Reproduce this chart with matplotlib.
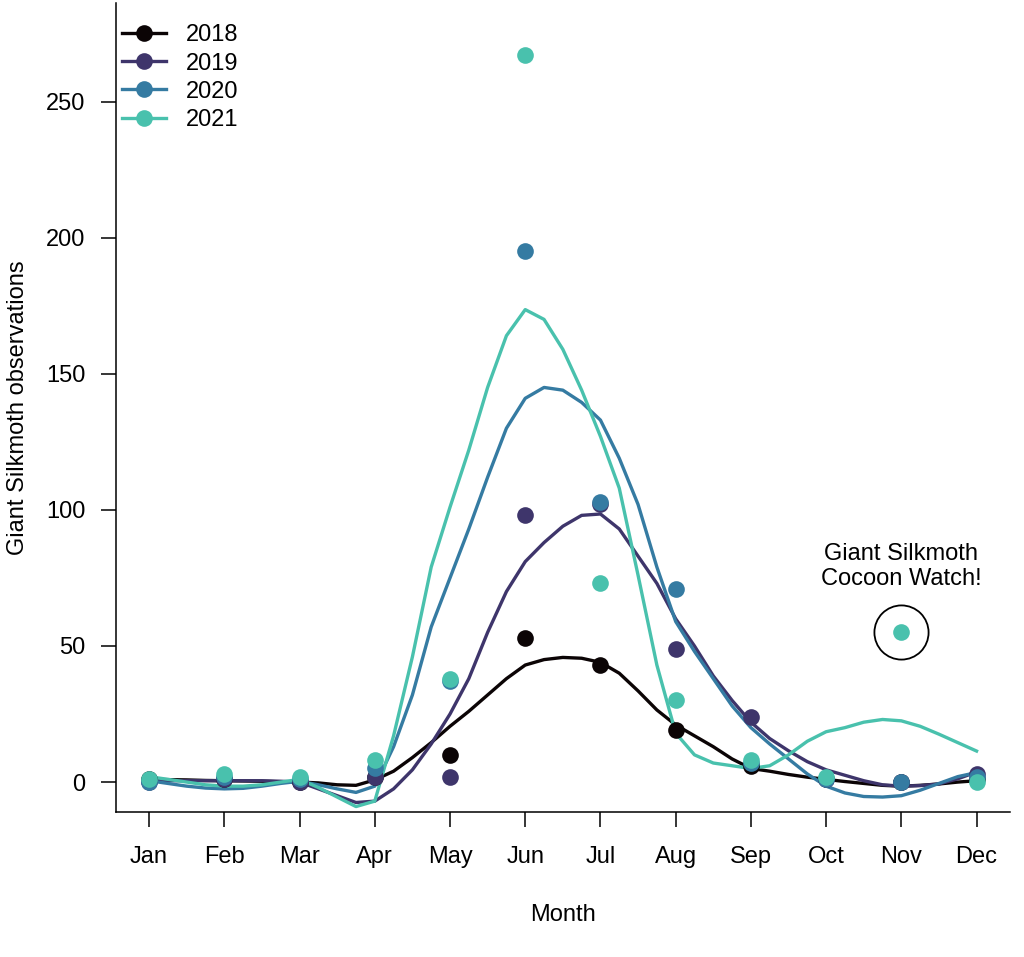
import numpy as np
import matplotlib.pyplot as plt
from matplotlib.lines import Line2D

plt.rcParams['font.family'] = ['Liberation Sans', 'DejaVu Sans']

months = ["Jan", "Feb", "Mar", "Apr", "May", "Jun", "Jul", "Aug", "Sep", "Oct", "Nov", "Dec"]
month_num = np.arange(1, 13)

years = ["2018", "2019", "2020", "2021"]
colors = ["#0B0405", "#3E356B", "#357BA2", "#49C1AD"]

# monthly observation counts
obs_2018 = [1, 1, 0, 2, 10, 53, 43, 19, 6, 1, 0, 1]
obs_2019 = [0, 1, 0, 2, 2, 98, 102, 49, 24, 1, 0, 3]
obs_2020 = [0, 2, 1, 5, 37, 195, 103, 71, 7, 1, 0, 2]
obs_2021 = [1, 3, 2, 8, 38, 267, 73, 30, 8, 2, 55, 0]

# smoothed curves, read at quarter-month steps
fit_x = np.arange(1, 12.01, 0.25)
fit_2018 = [1.0, 0.9, 0.8, 0.6, 0.5, 0.4, 0.3, 0.1, 0.0, -0.3, -1.0, -1.2,
            0.8, 4.0, 9.0, 14.5, 20.5, 26, 32, 38, 43, 45, 45.8, 45.5,
            44, 40, 33.5, 26.5, 21, 17, 13, 8.5, 5, 4, 2.8, 1.8,
            1, 0.2, -0.5, -1.2, -1.5, -1.2, -0.7, 0, 0.5]
fit_2019 = [0.5, 0.5, 0.5, 0.5, 0.5, 0.5, 0.5, 0.3, 0, -2.5, -5, -7.5,
            -7, -2.5, 4.5, 14, 25, 38, 55, 70, 81, 88, 94, 98,
            98.5, 93, 83, 73, 60, 50, 39, 30, 22, 16, 11.5, 7.5,
            4.5, 2.5, 0.5, -1, -1.5, -1.3, -0.7, 1.2, 3.7]
fit_2020 = [0.5, -0.5, -1.5, -2.2, -2.5, -2.3, -1.5, -0.5, 0.3, -1, -2.5, -3.8,
            -1.5, 13, 32, 57, 75, 93, 112, 130, 141, 145, 144, 139.5,
            133, 119, 102, 79, 59, 48, 38, 28, 20, 14, 8.5, 3,
            -1.5, -4, -5.3, -5.5, -5, -3, -0.5, 2, 3.5]
fit_2021 = [2, 1, 0, -1, -1.5, -1.5, -1, 0, 1, -2, -5.5, -9,
            -7, 17, 46, 79, 101, 122, 145, 164, 173.6, 170, 159, 144,
            127, 108, 76, 43, 18, 10, 7, 6, 5, 6, 10, 15,
            18.5, 20, 22, 23, 22.5, 20.5, 17.6, 14.5, 11.4]

obs = [obs_2018, obs_2019, obs_2020, obs_2021]
fits = [fit_2018, fit_2019, fit_2020, fit_2021]

fs = 17

fig = plt.figure(figsize=(10.24, 9.57), dpi=100)
ax = fig.add_axes([0.1133, 0.1515, 0.8727, 0.8455])

for y_obs, y_fit, c in zip(obs, fits, colors):
    ax.plot(month_num, y_obs, 'o', color=c, ms=12, mew=0, zorder=3)
    ax.plot(fit_x, y_fit, '-', color=c, lw=2.4, zorder=2)

# highlight the november 2021 bump
ax.plot(11, obs_2021[10], 'o', mfc='none', mec='black', ms=39, mew=1.3, zorder=4)
ax.text(11, 79.3, "Giant Silkmoth\nCocoon Watch!", ha='center', va='center',
        fontsize=fs, linespacing=1.2)

ax.set_xlim(0.56, 12.44)
ax.set_ylim(-11, 286.3)
ax.set_xticks(month_num)
ax.set_xticklabels(months)
ax.set_yticks([0, 50, 100, 150, 200, 250])
ax.tick_params(labelsize=fs, length=11, width=1.1)
ax.tick_params(axis='x', pad=13.5)
ax.tick_params(axis='y', pad=11)
for s in ['top', 'right']:
    ax.spines[s].set_visible(False)
for s in ['left', 'bottom']:
    ax.spines[s].set_linewidth(1.1)

ax.set_xlabel("Month", fontsize=fs, labelpad=26)
ax.set_ylabel("Giant Silkmoth observations", fontsize=fs, labelpad=12)

handles = [Line2D([0], [0], color=c, lw=2.4, marker='o', ms=12, mew=0) for c in colors]
ax.legend(handles, years, loc='upper left', bbox_to_anchor=(-0.004, 0.985), borderaxespad=0,
          frameon=False, fontsize=fs, handlelength=1.85, handletextpad=0.85,
          labelspacing=0.26)

fig.savefig("out.png", dpi=100)
